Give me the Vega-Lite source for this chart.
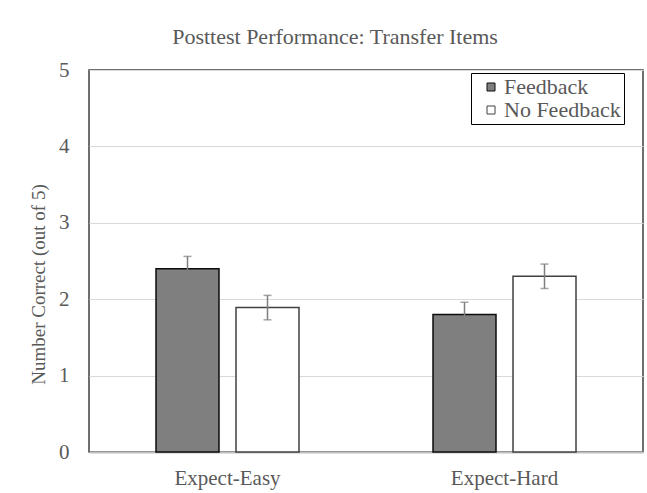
{
  "$schema": "https://vega.github.io/schema/vega-lite/v6.json",
  "autosize": {"type": "none"},
  "padding": {"left": 89, "top": 70, "right": 4, "bottom": 41},
  "width": 554,
  "height": 382,
  "background": "white",
  "title": {
    "text": "Posttest Performance: Transfer Items",
    "font": "Liberation Serif",
    "fontSize": 22,
    "fontWeight": "normal",
    "color": "#595959",
    "anchor": "middle",
    "frame": "group",
    "dx": -31,
    "offset": 10
  },
  "data": {
    "values": [
      {"condition": "Expect-Easy", "group": "Feedback", "mean": 2.40, "lo": 2.24, "hi": 2.56},
      {"condition": "Expect-Easy", "group": "No Feedback", "mean": 1.89, "lo": 1.73, "hi": 2.05},
      {"condition": "Expect-Hard", "group": "Feedback", "mean": 1.80, "lo": 1.64, "hi": 1.96},
      {"condition": "Expect-Hard", "group": "No Feedback", "mean": 2.30, "lo": 2.14, "hi": 2.46}
    ]
  },
  "encoding": {
    "x": {
      "field": "condition",
      "type": "nominal",
      "scale": {"paddingInner": 0, "paddingOuter": 0},
      "axis": {
        "title": null,
        "labelAngle": 0,
        "labelFont": "Liberation Serif",
        "labelFontSize": 21,
        "labelColor": "#595959",
        "labelPadding": 15,
        "ticks": false,
        "domainColor": "#bfbfbf",
        "domainWidth": 2,
        "grid": false
      }
    },
    "xOffset": {
      "field": "group",
      "type": "nominal",
      "scale": {"paddingInner": 0.2125, "paddingOuter": 0.8375}
    }
  },
  "layer": [
    {
      "mark": {"type": "bar", "strokeWidth": 1.5},
      "encoding": {
        "y": {
          "field": "mean",
          "type": "quantitative",
          "scale": {"domain": [0, 5]},
          "axis": {
            "title": "Number Correct (out of 5)",
            "titleFont": "Liberation Serif",
            "titleFontSize": 19,
            "titleFontWeight": "normal",
            "titleColor": "#595959",
            "titleX": -45,
            "titleY": 214,
            "titleAngle": -90,
            "titleAlign": "center",
            "titleBaseline": "alphabetic",
            "values": [0, 1, 2, 3, 4, 5],
            "format": "d",
            "labelFont": "Liberation Serif",
            "labelFontSize": 21,
            "labelColor": "#595959",
            "labelPadding": 20,
            "ticks": false,
            "domain": false,
            "gridColor": "#d9d9d9",
            "gridWidth": 1
          }
        },
        "fill": {
          "field": "group",
          "type": "nominal",
          "scale": {"domain": ["Feedback", "No Feedback"], "range": ["#7f7f7f", "#ffffff"]},
          "legend": {
            "title": null,
            "orient": "none",
            "legendX": 382,
            "legendY": 3,
            "direction": "vertical",
            "strokeColor": "#000000",
            "fillColor": "#ffffff",
            "padding": 3,
            "symbolOffset": 6,
            "symbolType": "square",
            "symbolSize": 64,
            "symbolStrokeColor": "#000000",
            "symbolStrokeWidth": 1,
            "labelOffset": 2,
            "labelFont": "Liberation Serif",
            "labelFontSize": 22,
            "labelColor": "#595959",
            "rowPadding": 1
          }
        },
        "stroke": {
          "field": "group",
          "type": "nominal",
          "scale": {"domain": ["Feedback", "No Feedback"], "range": ["#0d0d0d", "#404040"]},
          "legend": null
        }
      }
    },
    {
      "mark": {"type": "rule", "color": "#7f7f7f", "strokeWidth": 1.5},
      "encoding": {
        "y": {"field": "lo", "type": "quantitative"},
        "y2": {"field": "hi"}
      }
    },
    {
      "mark": {"type": "tick", "color": "#7f7f7f", "size": 8, "thickness": 1.5},
      "encoding": {
        "y": {"field": "lo", "type": "quantitative"}
      }
    },
    {
      "mark": {"type": "tick", "color": "#7f7f7f", "size": 8, "thickness": 1.5},
      "encoding": {
        "y": {"field": "hi", "type": "quantitative"}
      }
    }
  ],
  "config": {
    "view": {"stroke": "#404040", "strokeWidth": 1.5}
  }
}
